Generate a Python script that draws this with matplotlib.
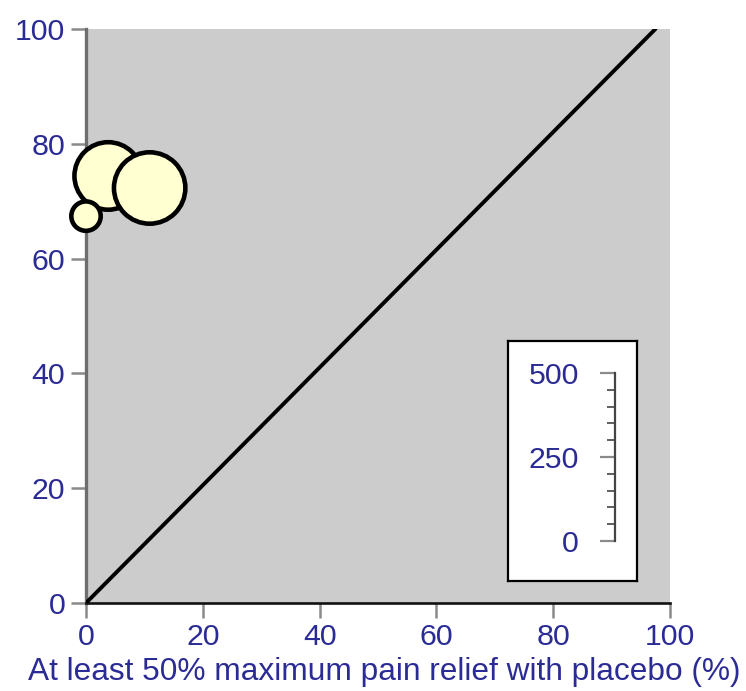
import numpy as np
import matplotlib
matplotlib.use("Agg")
import matplotlib.pyplot as plt
from matplotlib.ticker import MultipleLocator

plt.rcParams['font.family'] = ['Liberation Sans', 'DejaVu Sans']

# trials: placebo response vs active response, bubble area ~ number of patients
placebo_pct = [3.8, 0.0, 10.9]
active_pct = [74.4, 67.4, 72.3]
n_patients = [360, 80, 400]

# line of equality as drawn
eq_x = [0, 97.5]
eq_y = [0, 100]

scale_ticks = [0, 250, 500]
x_ticks = [0, 20, 40, 60, 80, 100]
y_ticks = [0, 20, 40, 60, 80, 100]

label_col = '#2b2b96'
tick_col = '#8a8a8a'
DPI = 100
FS = 21.8

fig = plt.figure(figsize=(7.46, 6.91), dpi=DPI)
ax = fig.add_axes([86 / 746, 88 / 691, 584 / 746, 574 / 691])
ax.set_facecolor('#cccccc')
ax.set_xlim(0, 100)
ax.set_ylim(0, 100)
ax.set_xticks(x_ticks)
ax.set_yticks(y_ticks)
for s in ('top', 'right'):
    ax.spines[s].set_visible(False)
ax.spines['left'].set_color('#6e6e6e')
ax.spines['left'].set_linewidth(2.4)
ax.spines['bottom'].set_color('#111111')
ax.spines['bottom'].set_linewidth(1.9)
ax.tick_params(direction='out', length=11, width=1.8, color=tick_col,
               labelcolor=label_col, labelsize=FS, pad=4)
ax.tick_params(axis='x', pad=3.5)
ax.set_xlabel('At least 50% maximum pain relief with placebo (%)',
              color=label_col, fontsize=22.8, labelpad=4)
ax.xaxis.label.set_x(0.51)

ax.plot(eq_x, eq_y, color='black', lw=2.8, solid_capstyle='round', zorder=3)

# radius in pixels grows with sqrt(n)
radius_px = 1.9 * np.sqrt(np.array(n_patients)) - 2.3
sizes = (2 * radius_px * 72 / DPI) ** 2
ax.scatter(placebo_pct, active_pct, s=sizes, facecolor='#ffffd2',
           edgecolor='black', linewidth=3.3, clip_on=False, zorder=5)

# size key box
box = fig.add_axes([508 / 746, (691 - 581) / 691, 129 / 746, 240 / 691])
box.set_xticks([])
box.set_yticks([])
box.set_facecolor('white')
for s in box.spines.values():
    s.set_color('black')
    s.set_linewidth(1.6)

key = fig.add_axes([615 / 746, (691 - 541) / 691, 0.001, 168 / 691])
key.set_ylim(0, 500)
key.set_xticks([])
key.set_yticks(scale_ticks)
key.yaxis.set_minor_locator(MultipleLocator(50))
key.patch.set_visible(False)
for s in ('top', 'right', 'bottom'):
    key.spines[s].set_visible(False)
key.spines['left'].set_color('#444444')
key.spines['left'].set_linewidth(1.6)
key.tick_params(axis='y', which='major', direction='out', length=11,
                width=1.6, color=tick_col, labelcolor=label_col,
                labelsize=FS, pad=15)
key.tick_params(axis='y', which='minor', direction='out', length=6,
                width=1.2, color='#444444')

fig.savefig('out.png', dpi=DPI)
